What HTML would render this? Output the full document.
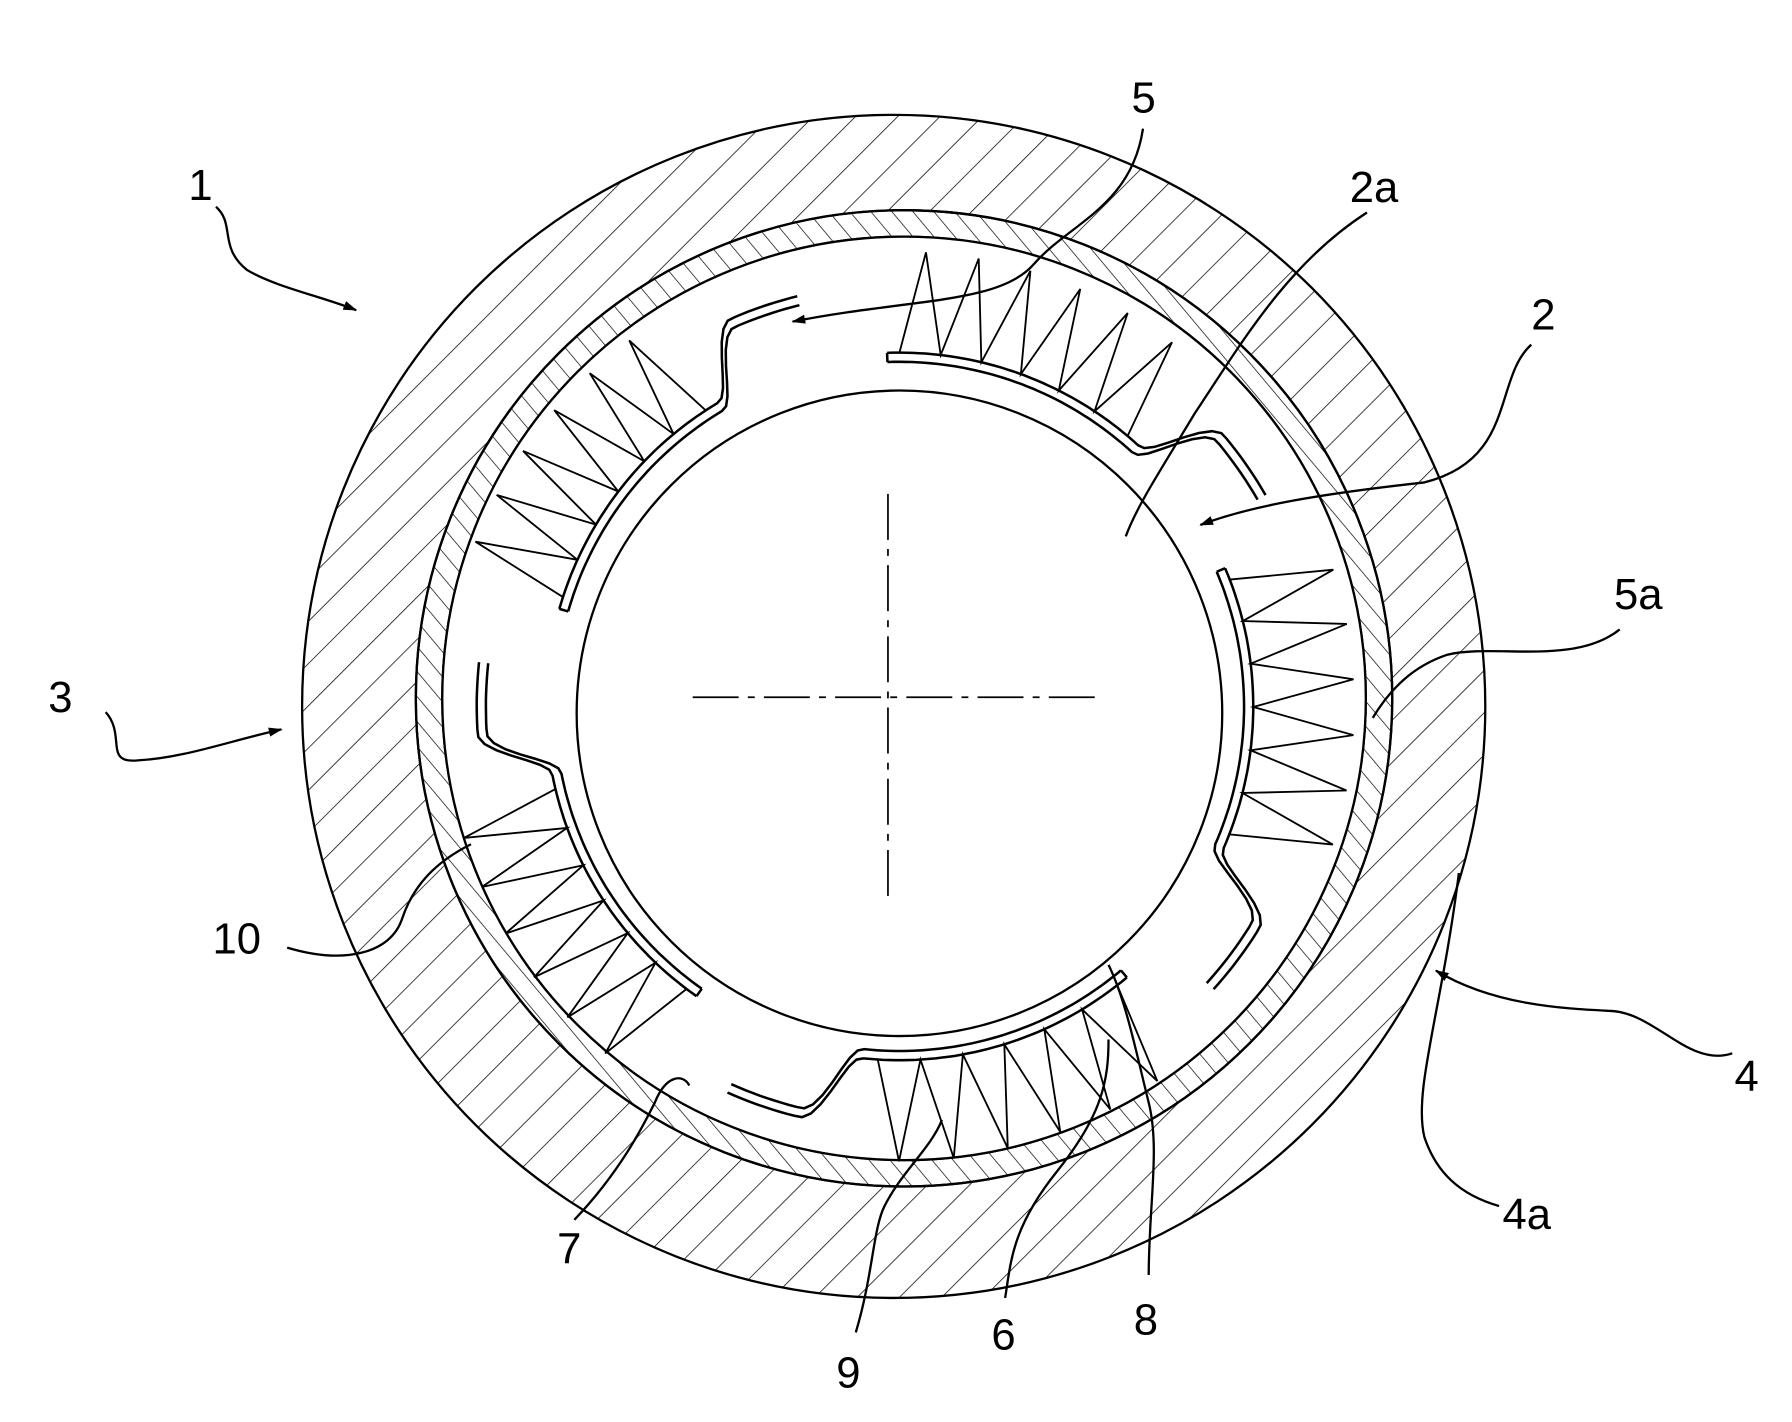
<!DOCTYPE html>
<html><head><meta charset="utf-8"><style>
html,body{margin:0;padding:0;background:#fff;}
svg{display:block;}
text{font-family:"Liberation Sans",sans-serif;font-size:38px;fill:#000;}
</style></head><body>
<svg id="s" width="1792" height="1422" viewBox="0 0 1560 1238" preserveAspectRatio="none" xmlns="http://www.w3.org/2000/svg">
<defs>
<pattern id="h1" width="26" height="26" patternUnits="userSpaceOnUse" patternTransform="rotate(45)">
<line x1="0" y1="0" x2="0" y2="26" stroke="#000" stroke-width="1.3"/></pattern>
<pattern id="h2" width="14" height="14" patternUnits="userSpaceOnUse" patternTransform="rotate(-40)">
<line x1="0" y1="0" x2="0" y2="14" stroke="#000" stroke-width="1.2"/></pattern>
<marker id="ar" markerWidth="12" markerHeight="8" refX="11" refY="4" orient="auto" markerUnits="userSpaceOnUse" viewBox="0 0 12 8">
<path d="M0,0 L12,4 L0,8 z" fill="#000"/></marker>
</defs>
<g fill="none" stroke="#000" stroke-width="2">
<path fill="url(#h1)" fill-rule="evenodd" d="M263,615 a515,515 0 1,0 1030,0 a515,515 0 1,0 -1030,0 Z M362,608 a425,425 0 1,0 850,0 a425,425 0 1,0 -850,0 Z"/>
<path fill="url(#h2)" fill-rule="evenodd" d="M362,608 a425,425 0 1,0 850,0 a425,425 0 1,0 -850,0 Z M385,608 a402,402 0 1,0 804,0 a402,402 0 1,0 -804,0 Z"/>
<circle cx="787" cy="608" r="402" fill="#fff"/>
<circle cx="783" cy="621" r="281"/>
<g id="foils" stroke-width="2.2"></g>
<line x1="603" y1="607" x2="960" y2="607" stroke-width="1.5" stroke-dasharray="40,8,6,8"/>
<line x1="773" y1="430" x2="773" y2="785" stroke-width="1.5" stroke-dasharray="40,8,6,8"/>
<g stroke-width="2">
<path d="M188,180 C205,195 190,215 215,235 C240,250 280,258 310,270" marker-end="url(#ar)"/>
<path d="M995,112 C985,180 930,195 900,230 C870,265 790,260 690,280" marker-end="url(#ar)"/>
<path d="M1190,185 C1120,230 1080,300 1040,360 C1010,410 990,440 980,467"/>
<path d="M1333,300 C1300,330 1320,400 1240,420 C1150,430 1090,440 1045,457" marker-end="url(#ar)"/>
<path d="M1410,548 C1370,580 1300,560 1260,570 C1230,580 1210,600 1195,625"/>
<path d="M92,620 C110,640 90,665 120,662 C160,660 200,645 245,635" marker-end="url(#ar)"/>
<path d="M250,825 C300,840 340,830 350,800 C360,770 380,750 410,735"/>
<path d="M1508,917 C1470,930 1440,880 1400,880 C1360,878 1300,875 1250,845" marker-end="url(#ar)"/>
<path d="M1305,1050 C1270,1040 1250,1020 1240,990 C1230,950 1255,880 1270,760"/>
<path d="M500,1062 C540,1020 560,980 570,960 C580,935 595,935 600,945"/>
<path d="M745,1160 C760,1110 760,1070 770,1050 C785,1020 810,1000 820,975"/>
<path d="M875,1130 C880,1100 880,1070 920,1020 C960,970 965,940 965,905"/>
<path d="M1000,1110 C1000,1050 1010,1000 1000,960 C990,920 980,870 965,840"/>
</g>
</g>
<text x="164" y="174">1</text>
<text x="985" y="98">5</text>
<text x="1175" y="176">2a</text>
<text x="1333" y="287">2</text>
<text x="1405" y="530">5a</text>
<text x="42" y="620">3</text>
<text x="185" y="830">10</text>
<text x="1510" y="950">4</text>
<text x="1308" y="1070">4a</text>
<text x="485" y="1100">7</text>
<text x="728" y="1208">9</text>
<text x="863" y="1175">6</text>
<text x="987" y="1162">8</text>
</svg>
<script>
(function(){
var cx=783,cy=615,g=document.getElementById('foils'),NS='http://www.w3.org/2000/svg';
function P(r,a){a=a*Math.PI/180;return [cx+r*Math.cos(a),cy+r*Math.sin(a)];}
function add(d,w){var p=document.createElementNS(NS,'path');p.setAttribute('d',d);if(w)p.setAttribute('stroke-width',w);g.appendChild(p);}
var F=[[-92,-30,1],[-23,42,1],[50,114,1],[125,186,1],[196,256,1]];
F.forEach(function(f){
 var a0=f[0],a1=f[1],n=60,d1='',d2='';
 for(var i=0;i<=n;i++){
  var a=a0+(a1-a0)*i/n,t=i/n,r=300;
  if(t>0.72){var u=Math.min(1,(t-0.72)/0.12);r=300+60*(0.5-0.5*Math.cos(Math.PI*u));}
  var p=P(r,a),q=P(r+8,a);
  d1+=(i?'L':'M')+p[0].toFixed(1)+','+p[1].toFixed(1);
  d2+=(i?'L':'M')+q[0].toFixed(1)+','+q[1].toFixed(1);
 }
 add(d1);add(d2);
 var e0=P(300,a0),e1=P(308,a0);add('M'+e0+'L'+e1);
 var s='',m=6,b0=a0+2,b1=a0+(a1-a0)*0.68;
 for(var k=0;k<=m*2;k++){
  var a=b0+(b1-b0)*k/(m*2),r=(k%2)?396:308,p=P(r,a);
  s+=(k?'L':'M')+p[0].toFixed(1)+','+p[1].toFixed(1);
 }
 add(s,1.6);
});
})();
</script>
</body></html>
